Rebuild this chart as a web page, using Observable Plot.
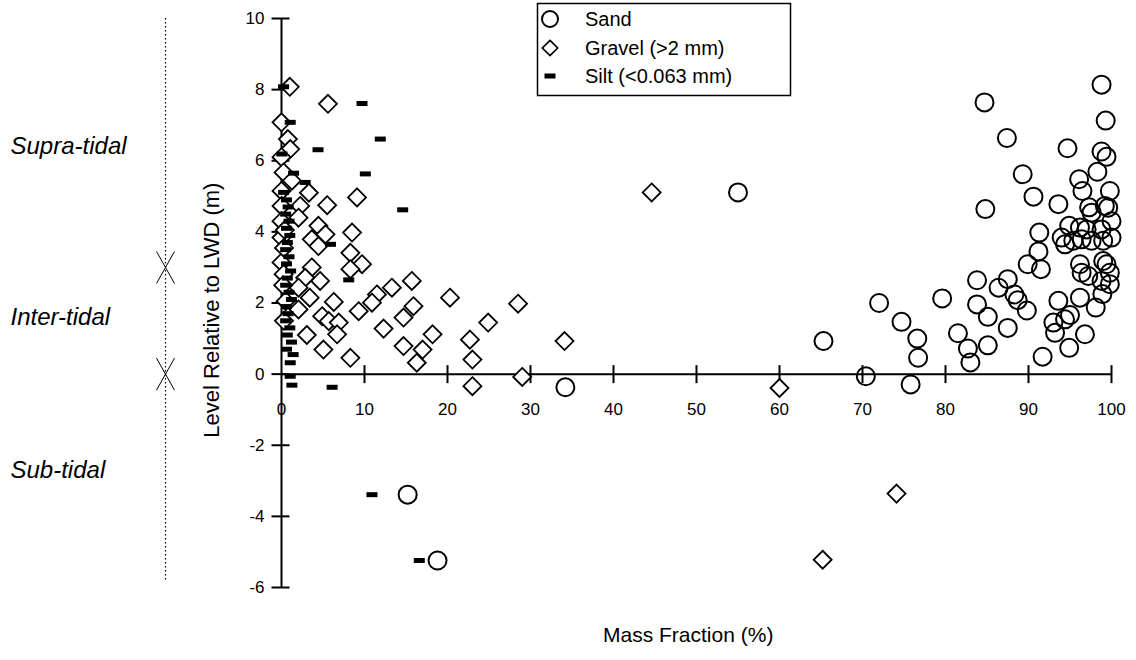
<!DOCTYPE html>
<html><head><meta charset="utf-8">
<script src="https://cdn.jsdelivr.net/npm/d3@7"></script>
<script src="https://cdn.jsdelivr.net/npm/@observablehq/plot@0.6"></script>
<style>body{margin:0;background:#fff}</style>
</head><body><div id="chart"></div>
<script>
// Sand (mass fraction %, level m)
const sand = [
[98.8,8.14],[84.7,7.64],[87.4,6.64],[99.3,7.13],[94.7,6.35],[98.8,6.26],[99.4,6.11],
[89.3,5.62],[98.3,5.69],[96.1,5.48],[96.5,5.15],[90.6,4.99],[99.8,5.15],[84.8,4.64],
[93.6,4.78],[97.3,4.69],[97.6,4.54],[99.2,4.73],[99.6,4.68],[100,4.3],[91.3,3.98],
[91.2,3.45],[94.9,4.17],[96.2,4.12],[97.0,4.07],[98.8,4.07],[94.0,3.84],[94.4,3.65],
[95.4,3.75],[96.4,3.79],[97.6,3.75],[99.0,3.75],[100,3.84],[89.9,3.09],[91.5,2.95],
[96.2,3.09],[96.4,2.85],[97.2,2.76],[99.0,3.18],[99.4,3.09],[99.8,2.85],[98.8,2.62],
[99.8,2.53],[83.8,2.64],[87.5,2.67],[86.4,2.43],[88.3,2.24],[88.7,2.08],[89.8,1.79],
[79.6,2.13],[83.8,1.96],[85.1,1.61],[72.0,2.0],[74.7,1.47],[76.6,1.0],[76.7,0.46],
[81.5,1.15],[82.7,0.72],[83.0,0.33],[85.1,0.81],[87.5,1.3],[75.8,-0.29],[91.7,0.49],
[93.6,2.06],[93.0,1.45],[93.2,1.16],[94.4,1.54],[95.0,1.66],[94.9,0.74],[96.8,1.12],
[96.2,2.15],[98.1,1.87],[98.9,2.25],[55.0,5.11],[65.3,0.93],[70.4,-0.06],[34.2,-0.37],
[15.2,-3.39],[18.8,-5.24]
];
// Gravel (>2 mm)
const gravel = [
[1.0,8.08],[5.6,7.6],[0,7.08],[0.77,6.61],[1.05,6.33],[0,6.1],[0.25,5.67],[1.25,5.44],
[0,5.15],[3.3,5.1],[9.1,4.97],[5.5,4.75],[2.25,4.73],[0,4.73],[0,4.3],[2.05,4.4],
[4.45,4.17],[5.3,3.93],[8.5,3.98],[3.65,3.79],[4.45,3.6],[0,3.84],[8.3,3.41],[9.7,3.09],
[8.3,2.95],[0,3.14],[3.65,3.0],[4.65,2.62],[2.85,2.71],[2.05,2.43],[0.25,2.81],[15.7,2.62],
[13.3,2.43],[11.5,2.24],[10.9,2.01],[20.3,2.15],[3.4,2.15],[2.05,1.82],[6.3,2.03],[9.3,1.77],
[15.9,1.91],[14.7,1.59],[4.9,1.63],[5.7,1.49],[6.9,1.45],[6.7,1.12],[12.3,1.28],[18.2,1.12],
[3.05,1.1],[14.7,0.79],[5.05,0.69],[17.0,0.69],[8.3,0.46],[16.3,0.32],[44.6,5.11],[28.5,1.98],
[24.9,1.45],[22.7,0.97],[34.1,0.93],[23.0,0.41],[23.0,-0.34],[29.0,-0.08],[60.0,-0.39],
[65.2,-5.22],[74.1,-3.36],[0.3,3.55],[0.2,2.5],[0.5,2.05],[0.3,1.5],[0.4,4.05]
];
// Silt (<0.063 mm)
const silt = [
[0.25,8.08],[9.7,7.61],[1.05,7.08],[11.9,6.61],[4.4,6.31],[0.05,6.19],[10.1,5.63],[1.45,5.65],
[2.85,5.39],[0.25,5.11],[14.6,4.62],[5.9,3.65],[8.1,2.65],[1.05,0.32],[1.05,-0.06],[1.25,-0.31],
[6.1,-0.37],[10.9,-3.39],[16.6,-5.24],
[0.6,4.9],[0.8,4.7],[0.5,4.5],[0.9,4.3],[0.6,4.1],[1.0,3.9],[0.7,3.7],[0.5,3.5],[0.9,3.3],
[0.6,3.1],[1.1,2.9],[0.7,2.7],[0.5,2.5],[0.9,2.3],[1.2,2.1],[0.6,1.9],[0.8,1.7],[0.5,1.5],
[1.0,1.3],[0.7,1.1],[1.2,0.9],[0.6,0.7],[1.4,0.55]
];
const xTicks = [0,10,20,30,40,50,60,70,80,90,100];
const yTicks = [-6,-4,-2,0,2,4,6,8,10];
const zoneLabels = ["Supra-tidal","Inter-tidal","Sub-tidal"];
const zoneLabelLevels = [6.4,1.6,-2.7];
const zoneBounds = [3.0,0];
const zoneLineRange = [10,-5.8];
const legendLabels = ["Sand","Gravel (>2 mm)","Silt (<0.063 mm)"];
const xTitle = "Mass Fraction (%)";
const yTitle = "Level Relative to LWD (m)";

const zones = zoneLabels.map((t,i)=>({t, y:zoneLabelLevels[i]}));
const pts = a => a.map(([x,y])=>({x,y}));

const diamond = {draw(c){c.moveTo(0,-9);c.lineTo(9,0);c.lineTo(0,9);c.lineTo(-9,0);c.closePath();}};
const bar = {draw(c){c.rect(-5.5,-2.5,11,5);}};
const cross = {draw(c){c.moveTo(-9,-16);c.lineTo(9,16);c.moveTo(9,-16);c.lineTo(-9,16);}};
const vtick = {draw(c){c.moveTo(0,-9);c.lineTo(0,9);}};
const htick = {draw(c){c.moveTo(-10,0);c.lineTo(8,0);}};

const font = "'Liberation Sans', Arial, Helvetica, sans-serif";
const plot = Plot.plot({
  width:1136, height:660,
  marginLeft:281, marginRight:25, marginTop:18, marginBottom:73,
  x:{domain:[0,100], axis:null},
  y:{domain:[-6,10], axis:null},
  style:{fontFamily:font, background:"white", color:"black"},
  marks:[
    Plot.ruleX([0],{x:d=>d, y1:zoneLineRange[0], y2:zoneLineRange[1], dx:-116, stroke:"black", strokeWidth:1.2, strokeDasharray:"1.5,2.5"}),
    Plot.dot(zoneBounds,{x:0, y:d=>d, dx:-116, symbol:cross, stroke:"black", strokeWidth:1, fill:"none"}),
    Plot.text(zones,{x:0, y:"y", text:"t", dx:-271, textAnchor:"start", fontSize:24, fontStyle:"italic"}),
    Plot.ruleY([0],{y:d=>d, x1:0, x2:100, stroke:"black", strokeWidth:2}),
    Plot.ruleX([0],{x:d=>d, y1:-6, y2:10, stroke:"black", strokeWidth:2}),
    Plot.dot(xTicks.filter(d=>d>0),{x:d=>d, y:0, symbol:vtick, stroke:"black", strokeWidth:2, fill:"none"}),
    Plot.dot(yTicks,{x:0, y:d=>d, symbol:htick, stroke:"black", strokeWidth:2, fill:"none"}),
    Plot.text(xTicks,{x:d=>d, y:0, text:d=>String(d), dy:35, fontSize:17}),
    Plot.text(yTicks,{x:0, y:d=>d, text:d=>String(d), dx:-17, textAnchor:"end", fontSize:17}),
    Plot.text([xTitle],{x:49, frameAnchor:"bottom", text:d=>d, dy:54, fontSize:21}),
    Plot.text([yTitle],{x:0, y:1.8, text:d=>d, dx:-70, rotate:-90, fontSize:22}),
    Plot.dot(pts(gravel),{x:"x", y:"y", symbol:diamond, stroke:"black", strokeWidth:1.8, fill:"white"}),
    Plot.dot(pts(silt),{x:"x", y:"y", symbol:bar, fill:"black", stroke:"none"}),
    Plot.dot(pts(sand),{x:"x", y:"y", r:9, stroke:"black", strokeWidth:2, fill:"none"})
  ]
});
document.getElementById("chart").appendChild(plot);

// legend
const svg = d3.select(plot);
const lg = svg.append("g").attr("font-family", font).attr("font-size", 20).attr("text-anchor","start");
lg.append("rect").attr("x",537.5).attr("y",3.5).attr("width",253).attr("height",92)
  .attr("fill","white").attr("stroke","black").attr("stroke-width",1.5);
const symX = 550, txtX = 585, rowY = [19,48,76];
lg.append("circle").attr("cx",symX).attr("cy",rowY[0]).attr("r",8).attr("fill","none").attr("stroke","black").attr("stroke-width",2);
lg.append("path").attr("d",d3.symbol(diamond)()).attr("transform",`translate(${symX},${rowY[1]}) scale(0.85)`).attr("fill","none").attr("stroke","black").attr("stroke-width",2);
lg.append("path").attr("d",d3.symbol(bar)()).attr("transform",`translate(${symX},${rowY[2]})`).attr("fill","black");
legendLabels.forEach((t,i)=>{
  lg.append("text").attr("x",txtX).attr("y",rowY[i]).attr("dy","0.35em").text(t);
});
</script>
</body></html>
